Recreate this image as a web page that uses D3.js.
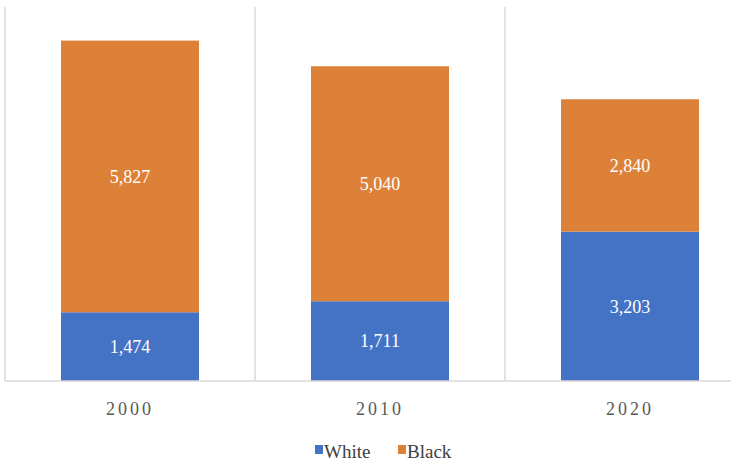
<!DOCTYPE html>
<html>
<head>
<meta charset="utf-8">
<script src="https://cdn.jsdelivr.net/npm/d3@7"></script>
<style>
  html, body { margin: 0; padding: 0; background: #fff; }
  svg { display: block; }
</style>
</head>
<body>
<div id="chart"></div>
<script>
// Values
const years = ['2000', '2010', '2020'];
const white = [1474, 1711, 3203];
const black = [5827, 5040, 2840];
const seriesNames = ['White', 'Black'];
const seriesColors = ['#4472C4', '#DD8139'];

const width = 731, height = 462;
const serif = 'Liberation Serif';
const svg = d3.select('#chart').append('svg')
  .attr('width', width)
  .attr('height', height)
  .style('font-family', serif);

// band scale runs past the right edge, like the cropped original
const x = d3.scaleBand()
  .domain(years)
  .range([5, 755])
  .paddingInner(0.448)
  .paddingOuter(0.224);

const y = d3.scaleLinear()
  .domain([0, 8000])
  .range([381, 8]);

const rows = years.map((yr, i) => ({ year: yr, White: white[i], Black: black[i] }));
const stacked = d3.stack().keys(seriesNames)(rows);

// vertical category separators
const step = x.step();
const seps = years.map((d, i) => 5 + i * step);
svg.append('g').selectAll('line')
  .data(seps)
  .join('line')
  .attr('x1', d => d).attr('x2', d => d)
  .attr('y1', 7).attr('y2', 381)
  .attr('stroke', '#d9d9d9')
  .attr('stroke-width', 1.5);

// bars
const layers = svg.append('g').selectAll('g')
  .data(stacked)
  .join('g')
  .attr('fill', (d, i) => seriesColors[i]);

layers.selectAll('rect')
  .data(d => d)
  .join('rect')
  .attr('x', d => x(d.data.year))
  .attr('width', x.bandwidth())
  .attr('y', d => y(d[1]))
  .attr('height', d => y(d[0]) - y(d[1]));

// data labels
layers.selectAll('text')
  .data(d => d)
  .join('text')
  .attr('x', d => x(d.data.year) + x.bandwidth() / 2)
  .attr('y', d => (y(d[0]) + y(d[1])) / 2)
  .attr('dy', '0.35em')
  .attr('text-anchor', 'middle')
  .attr('fill', '#fff')
  .style('font-family', serif)
  .style('font-size', '18px')
  .text(d => d3.format(',')(d[1] - d[0]));

// x axis
const xAxis = svg.append('g')
  .attr('transform', 'translate(0,381)')
  .call(d3.axisBottom(x).tickSize(0).tickPadding(21));
xAxis.attr('font-family', null);
xAxis.select('.domain')
  .attr('d', 'M5,0H731')
  .attr('stroke', '#d9d9d9')
  .attr('stroke-width', 1.5);
xAxis.selectAll('text')
  .style('font-family', serif)
  .style('font-size', '18px')
  .attr('letter-spacing', '3px')
  .attr('fill', '#595959');

// legend
const legend = svg.append('g').attr('transform', 'translate(0,451)');
const legendX = [315, 398];
const items = legend.selectAll('g')
  .data(seriesNames)
  .join('g')
  .attr('transform', (d, i) => `translate(${legendX[i]},0)`);
items.append('rect')
  .attr('x', 0).attr('y', -6)
  .attr('width', 8).attr('height', 9)
  .attr('fill', (d, i) => seriesColors[i]);
items.append('text')
  .attr('x', 9)
  .attr('dy', '0.35em')
  .style('font-family', serif)
  .style('font-size', '19px')
  .attr('fill', '#404040')
  .text(d => d);
</script>
</body>
</html>
